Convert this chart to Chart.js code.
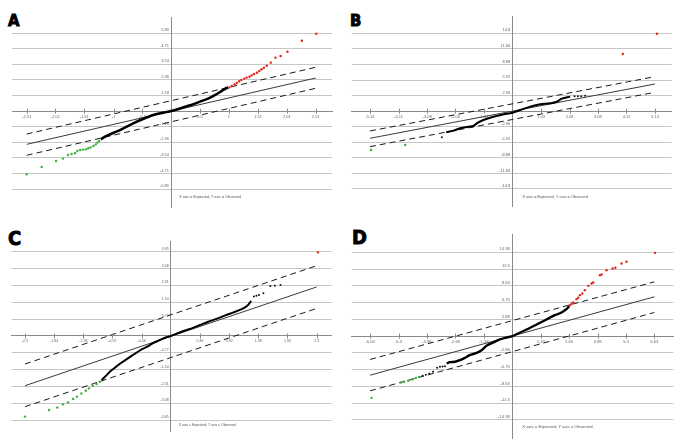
<!DOCTYPE html>
<html><head><meta charset="utf-8">
<script src="https://cdn.jsdelivr.net/npm/chart.js@4.4.0/dist/chart.umd.min.js"></script>
<style>
html,body{margin:0;padding:0;background:#fff;width:685px;height:446px;overflow:hidden;position:relative;}
canvas{position:absolute;}
.letter{position:absolute;font-family:"Liberation Sans Narrow","DejaVu Sans Condensed","Liberation Sans",Arial,sans-serif;font-weight:bold;color:#000;-webkit-text-stroke:0.9px #000;}
</style></head><body>
<div class="letter" style="left:8px;top:13px;font-size:16.5px;line-height:16.5px">A</div>
<div class="letter" style="left:350px;top:13px;font-size:16.5px;line-height:16.5px">B</div>
<div class="letter" style="left:8px;top:228px;font-size:20px;line-height:20px">C</div>
<div class="letter" style="left:352px;top:227px;font-size:20px;line-height:20px">D</div>
<canvas id="cA" width="342" height="222" style="left:0;top:0"></canvas>
<canvas id="cB" width="345" height="222" style="left:340px;top:0"></canvas>
<canvas id="cC" width="342" height="222" style="left:0;top:224px"></canvas>
<canvas id="cD" width="345" height="222" style="left:340px;top:224px"></canvas>
<script>
const caption = "X axis = Expected, Y axis = Observed";

// ---------- Panel A ----------
const aXTicks = ["-2.51","-2.01","-1.51","-1","-0.5","0","0.5","1","1.51","2.01","2.51"];
const aYTicks = ["-5.89","-4.71","-3.54","-2.36","-1.18","0","1.18","2.36","3.54","4.71","5.89"];
const aLineX  = [-2.51, 2.51];
const aRefY   = [-2.51, 2.51];
const aUpperY = [-1.73, 3.32];
const aLowerY = [-3.34, 1.73];
const aGreenX = [-2.51,-2.25,-2.00,-1.88,-1.79,-1.73,-1.67,-1.63,-1.58,-1.53,-1.48,-1.44,-1.40,-1.35,-1.31,-1.28,-1.25];
const aGreenY = [-4.78,-4.23,-3.77,-3.59,-3.32,-3.24,-3.19,-3.01,-2.94,-2.91,-2.89,-2.81,-2.74,-2.64,-2.51,-2.38,-2.26];
const aBlackX = [-1.22,-1.15,-1.06,-0.95,-0.83,-0.66,-0.48,-0.31,-0.14,0,0.15,0.33,0.50,0.65,0.76,0.85,0.92,0.99];
const aBlackY = [-2.13,-1.93,-1.75,-1.55,-1.30,-0.92,-0.57,-0.29,-0.11,0.01,0.21,0.44,0.72,0.97,1.22,1.45,1.65,1.80];
const aDotsX  = [];
const aDotsY  = [];
const aRedX   = [1.01,1.05,1.10,1.14,1.18,1.22,1.27,1.31,1.36,1.40,1.44,1.49,1.53,1.57,1.61,1.66,1.73,1.81,1.90,2.02,2.27,2.52];
const aRedY   = [1.80,1.90,2.03,2.13,2.26,2.36,2.46,2.54,2.61,2.71,2.81,2.91,3.04,3.17,3.29,3.44,3.67,4.05,4.17,4.50,5.33,5.86];

// ---------- Panel B ----------
const bXTicks = ["-5.14","-4.11","-3.08","-2.06","-1.03","0","1.03","2.06","3.08","4.11","5.14"];
const bYTicks = ["-14.8","-11.84","-8.88","-5.92","-2.96","0","2.96","5.92","8.88","11.84","14.8"];
const bLineX  = [-5.14, 5.14];
const bRefY   = [-5.16, 5.16];
const bUpperY = [-3.77, 6.56];
const bLowerY = [-6.75, 3.58];
const bGreenX = [-5.10,-3.87];
const bGreenY = [-7.38,-6.43];
const bBlackX = [-2.39,-2.13,-1.89,-1.59,-1.41,-1.29,-1.05,-0.69,-0.32,0,0.28,0.64,1.00,1.36,1.60,1.78,2.08];
const bBlackY = [-4.02,-3.71,-3.26,-2.95,-2.82,-2.31,-1.68,-1.05,-0.60,-0.29,0.22,0.86,1.30,1.49,1.81,2.38,2.76];
const bDotsX  = [-2.55,2.24,2.36,2.48,2.62];
const bDotsY  = [-4.97,2.82,2.82,2.82,2.95];
const bRedX   = [3.98,5.21];
const bRedY   = [10.87,14.73];

// ---------- Panel C ----------
const cXTicks = ["-2.3","-1.84","-1.38","-0.92","-0.46","0","0.46","0.92","1.38","1.84","2.3"];
const cYTicks = ["-3.85","-3.08","-2.31","-1.54","-0.77","0","0.77","1.54","2.31","3.08","3.85"];
const cLineX  = [-2.3, 2.3];
const cRefY   = [-2.27, 2.24];
const cUpperY = [-1.28, 3.21];
const cLowerY = [-3.23, 1.26];
const cGreenX = [-2.30,-1.92,-1.79,-1.70,-1.62,-1.54,-1.48,-1.41,-1.34,-1.29,-1.23,-1.17,-1.12];
const cGreenY = [-3.68,-3.38,-3.27,-3.12,-3.03,-2.88,-2.77,-2.62,-2.50,-2.39,-2.27,-2.19,-2.09];
const cBlackX = [-1.09,-1.02,-0.94,-0.86,-0.78,-0.70,-0.62,-0.54,-0.46,-0.38,-0.28,-0.17,-0.07,0,0.09,0.20,0.33,0.46,0.59,0.72,0.85,0.98,1.09,1.17,1.22,1.25,1.27];
const cBlackY = [-2.01,-1.81,-1.58,-1.40,-1.22,-1.07,-0.91,-0.76,-0.61,-0.50,-0.33,-0.18,-0.06,0,0.11,0.23,0.35,0.50,0.65,0.78,0.93,1.07,1.19,1.31,1.42,1.54,1.60];
const cDotsX  = [1.31,1.35,1.39,1.46,1.57,1.64,1.73];
const cDotsY  = [1.80,1.84,1.87,1.95,2.28,2.30,2.33];
const cRedX   = [2.32];
const cRedY   = [3.82];

// ---------- Panel D ----------
const dXTicks = ["-6.63","-5.3","-3.98","-2.65","-1.33","0","1.33","2.65","3.98","5.3","6.63"];
const dYTicks = ["-14.38","-11.5","-8.63","-5.75","-2.88","0","2.88","5.75","8.63","11.5","14.38"];
const dLineX  = [-6.63, 6.63];
const dRefY   = [-6.69, 6.75];
const dUpperY = [-4.00, 9.32];
const dLowerY = [-9.38, 4.06];
const dGreenX = [-6.56,-5.19,-5.04,-4.85,-4.65,-4.49,-4.34];
const dGreenY = [-10.58,-7.95,-7.83,-7.66,-7.38,-7.15,-6.98];
const dDotsX  = [-4.18,-4.03,-3.87,-3.69,-3.50,-3.37,-3.25,-3.14];
const dDotsY  = [-6.80,-6.63,-6.46,-6.12,-5.43,-5.26,-5.20,-5.15];
const dBlackX = [-3.06,-2.91,-2.67,-2.44,-2.21,-1.98,-1.66,-1.43,-1.20,-0.89,-0.58,-0.26,0,0.28,0.67,1.14,1.60,1.99,2.30,2.53,2.66];
const dBlackY = [-4.69,-4.46,-4.40,-4.12,-3.72,-3.26,-2.86,-2.40,-1.66,-1.09,-0.57,-0.23,0,0.46,1.14,2.00,2.86,3.60,4.06,4.63,5.15];
const dRedX   = [2.69,2.77,2.85,3.00,3.08,3.16,3.27,3.39,3.55,3.70,3.78,4.09,4.17,4.40,4.68,4.81,5.10,5.33,6.66];
const dRedY   = [5.32,5.55,5.77,6.35,6.58,7.03,7.32,7.89,8.63,9.03,9.21,10.46,10.58,11.32,11.61,11.72,12.46,12.75,14.29];

function pts(xs, ys){ return xs.map((x,i)=>({x:x, y:ys[i]})); }

const decor = {
  id:'decor',
  afterDraw(chart, args, o){
    const {ctx, chartArea, scales} = chart;
    const xs = scales.x, ys = scales.y;
    const y0 = ys.getPixelForValue(0), x0 = xs.getPixelForValue(0);
    ctx.save();
    ctx.strokeStyle = '#8a8a8a'; ctx.lineWidth = 1;
    xs.ticks.forEach(t => {
      if (t.value === 0) return;
      const px = Math.round(xs.getPixelForValue(t.value)) + 0.5;
      ctx.beginPath(); ctx.moveTo(px, y0 - 2.5); ctx.lineTo(px, y0 + 2.5); ctx.stroke();
    });
    ctx.fillStyle = '#555';
    ctx.font = o.size + 'px "Liberation Sans", Arial, sans-serif';
    ctx.textBaseline = 'middle'; ctx.textAlign = 'left';
    ctx.fillText(caption, x0 + o.dx, chartArea.bottom - o.dy);
    ctx.restore();
  }
};

function makePanel(id, s){
  const lineDs = (ys, color, dash) => ({data: pts(s.lineX, ys), showLine:true, borderColor:color, borderWidth:1, borderDash:dash, pointRadius:0, order:5});
  const datasets = [
    lineDs(s.refY, '#3a3a3a', []),
    lineDs(s.upperY, '#1a1a1a', [6,4]),
    lineDs(s.lowerY, '#1a1a1a', [6,4]),
    {data: pts(s.blackX, s.blackY), showLine:true, borderColor:'#000', borderWidth:s.bw, pointRadius:0, cubicInterpolationMode:'monotone', order:2},
    {data: pts(s.dotsX, s.dotsY), showLine:false, pointRadius:1, pointBackgroundColor:'#111', pointBorderWidth:0, order:1},
    {data: pts(s.greenX, s.greenY), showLine:false, pointRadius:1.2, pointBackgroundColor:'#3aad3a', pointBorderWidth:0, order:1},
    {data: pts(s.redX, s.redY), showLine:false, pointRadius:1.2, pointBackgroundColor:'#e3241b', pointBorderWidth:0, order:1}
  ];
  const font = {size:s.fs, family:'"Liberation Sans", Arial, sans-serif'};
  new Chart(document.getElementById(id), {
    type:'scatter',
    data:{datasets:datasets},
    options:{
      responsive:false, animation:false, events:[],
      layout:{padding:s.pad},
      plugins:{legend:{display:false}, tooltip:{enabled:false}, decor:{size:s.cs, dx:s.cdx, dy:s.cdy}},
      scales:{
        x:{type:'linear', position:{y:0}, min:s.xMin, max:s.xMax,
           afterBuildTicks: sc => { sc.ticks = s.xTicks.map(v => ({value: parseFloat(v)})); },
           ticks:{autoSkip:false, maxRotation:0, minRotation:0, padding:3, font:font, color:'#666',
                  callback:(v,i) => s.xTicks[i] === '0' ? '' : s.xTicks[i]},
           grid:{display:true, drawOnChartArea:false, drawTicks:false},
           border:{display:true, color:'#8a8a8a', width:1}},
        y:{type:'linear', position:{x:0}, min:s.yMin, max:s.yMax,
           afterBuildTicks: sc => { sc.ticks = s.yTicks.map(v => ({value: parseFloat(v)})); },
           ticks:{autoSkip:false, padding:3, labelOffset:-3, font:font, color:'#666',
                  callback:(v,i) => s.yTicks[i] === '0' ? '' : s.yTicks[i] + '  '},
           grid:{color:'#c6c6c6', drawTicks:false, lineWidth:1},
           border:{display:true, color:'#8a8a8a', width:1}}
      }
    },
    plugins:[decor]
  });
}

makePanel('cA', {xTicks:aXTicks, yTicks:aYTicks, lineX:aLineX, refY:aRefY, upperY:aUpperY, lowerY:aLowerY,
  greenX:aGreenX, greenY:aGreenY, blackX:aBlackX, blackY:aBlackY, dotsX:aDotsX, dotsY:aDotsY, redX:aRedX, redY:aRedY,
  xMin:-2.765, xMax:2.793, yMin:-7.252, yMax:7.126, pad:{left:12, right:10, top:17, bottom:15},
  fs:4, bw:2.6, cs:3.7, cdx:8, cdy:10});
makePanel('cB', {xTicks:bXTicks, yTicks:bYTicks, lineX:bLineX, refY:bRefY, upperY:bUpperY, lowerY:bLowerY,
  greenX:bGreenX, greenY:bGreenY, blackX:bBlackX, blackY:bBlackY, dotsX:bDotsX, dotsY:bDotsY, redX:bRedX, redY:bRedY,
  xMin:-5.80, xMax:5.743, yMin:-18.17, yMax:17.96, pad:{left:11.7, right:13.3, top:16.7, bottom:15.3},
  fs:4, bw:2, cs:3.9, cdx:10, cdy:10});
makePanel('cC', {xTicks:cXTicks, yTicks:cYTicks, lineX:cLineX, refY:cRefY, upperY:cUpperY, lowerY:cLowerY,
  greenX:cGreenX, greenY:cGreenY, blackX:cBlackX, blackY:cBlackY, dotsX:cDotsX, dotsY:cDotsY, redX:cRedX, redY:cRedY,
  xMin:-2.509, xMax:2.537, yMin:-4.37, yMax:4.306, pad:{left:11.7, right:10.3, top:17.7, bottom:14.3},
  fs:3.6, bw:2, cs:3.4, cdx:8, cdy:7});
makePanel('cD', {xTicks:dXTicks, yTicks:dYTicks, lineX:dLineX, refY:dRefY, upperY:dUpperY, lowerY:dLowerY,
  greenX:dGreenX, greenY:dGreenY, blackX:dBlackX, blackY:dBlackY, dotsX:dDotsX, dotsY:dDotsY, redX:dRedX, redY:dRedY,
  xMin:-7.486, xMax:7.514, yMin:-17.52, yMax:17.47, pad:{left:11.7, right:11.7, top:10.3, bottom:7.7},
  fs:4.2, bw:2.4, cs:4.2, cdx:10, cdy:11});
</script>
</body></html>
